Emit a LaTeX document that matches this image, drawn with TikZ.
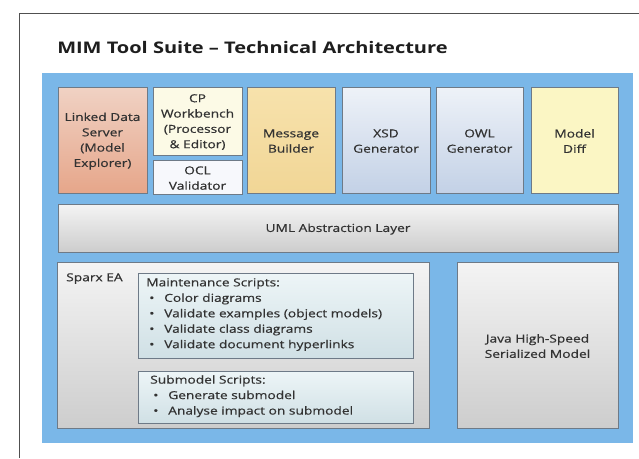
\documentclass[tikz,border=0pt]{standalone}
\usepackage{fontspec}
\setmainfont{Open Sans}[FakeStretch=1.25, UprightFeatures={FakeBold=0.6}]
\usetikzlibrary{fit}
\definecolor{bluep}{RGB}{122,183,232}
\definecolor{boxline}{RGB}{110,122,135}
\definecolor{txt}{RGB}{50,50,50}
\definecolor{titlec}{RGB}{30,30,30}
\definecolor{framec}{RGB}{80,80,80}
\definecolor{ldsT}{RGB}{240,210,196}
\definecolor{ldsB}{RGB}{230,166,138}
\definecolor{cpc}{RGB}{252,250,230}
\definecolor{oclc}{RGB}{247,248,252}
\definecolor{mbT}{RGB}{247,226,172}
\definecolor{mbB}{RGB}{241,214,150}
\definecolor{genT}{RGB}{238,242,248}
\definecolor{genB}{RGB}{195,209,230}
\definecolor{mdc}{RGB}{251,246,196}
\definecolor{grT}{RGB}{244,244,244}
\definecolor{grB}{RGB}{205,205,205}
\definecolor{scT}{RGB}{237,245,247}
\definecolor{scB}{RGB}{208,224,229}
\tikzset{
  box/.style={draw=boxline, line width=0.5pt, inner sep=0pt},
  grbox/.style={box, top color=grT, bottom color=grB},
  genbox/.style={box, top color=genT, bottom color=genB},
  scbox/.style={box, top color=scT, bottom color=scB},
  boxtext/.style={inner sep=0pt, align=center},
  bul/.style={anchor=north west, align=left, inner sep=0pt, font=\fontsize{8.25}{11.6}\selectfont}
}
\newcommand{\bitem}[1]{\hspace*{2.25pt}\makebox[11.25pt][l]{•}#1}
% box with centred text slightly below the middle
\newcommand{\bx}[4]{\node[#1, fit={#3}] (#2) {};
  \node[boxtext] (#2-t) at ([yshift=-0.8pt]#2.center) {#4};}
\begin{document}
\begin{tikzpicture}[x=0.75pt,y=-0.75pt, font=\fontsize{8.25}{11.5}\selectfont, text=txt]
\useasboundingbox (0,0) rectangle (639,458);
\fill[white] (0,0) rectangle (639,458);
\draw[framec, line width=0.75pt] (19,458) -- (19,13) -- (639,13);
\node[anchor=west, inner sep=0pt, font=\fontsize{12}{14}\selectfont\bfseries, text=titlec] (title) at (57,47) {MIM Tool Suite – Technical Architecture};
\node[fill=bluep, inner sep=0pt, fit={(42,73)(633,443)}] (panel) {};
% top row
\bx{box, top color=ldsT, bottom color=ldsB}{lds}{(58,87)(147,193)}{\fontsize{8.25}{12}\selectfont Linked Data\\Server\\(Model\\Explorer)}
\bx{box, fill=cpc}{cp}{(153,87)(242,155)}{CP\\Workbench\\(Processor\\\& Editor)}
\bx{box, fill=oclc}{ocl}{(153,160)(242,194)}{OCL\\Validator}
\bx{box, top color=mbT, bottom color=mbB}{mb}{(247,87)(335,193)}{Message\\Builder}
\bx{genbox}{xsd}{(342,87)(430,193)}{XSD\\Generator}
\bx{genbox}{owl}{(436,87)(523,193)}{OWL\\Generator}
\bx{box, fill=mdc}{md}{(531,87)(618,193)}{Model\\Diff}
% UML layer
\bx{grbox}{uml}{(58,204)(618,252)}{UML Abstraction Layer}
% Sparx EA
\node[grbox, fit={(57,262)(429,428)}] (sparx) {};
\node[anchor=north west, inner sep=0pt] (sparxlbl) at (66,273) {Sparx EA};
\node[scbox, fit={(138,273)(413,358)}] (maint) {};
\node[bul] (mainttxt) at (146,278) {Maintenance Scripts:\\\bitem{Color diagrams}\\\bitem{Validate examples (object models)}\\\bitem{Validate class diagrams}\\\bitem{Validate document hyperlinks}};
\node[scbox, fit={(138,371)(413,423)}] (sub) {};
\node[bul] (subtxt) at (150,375) {Submodel Scripts:\\\bitem{Generate submodel}\\\bitem{Analyse impact on submodel}};
% Java
\bx{grbox}{java}{(457,262)(618,428)}{Java High-Speed\\Serialized Model}
\end{tikzpicture}
\end{document}
